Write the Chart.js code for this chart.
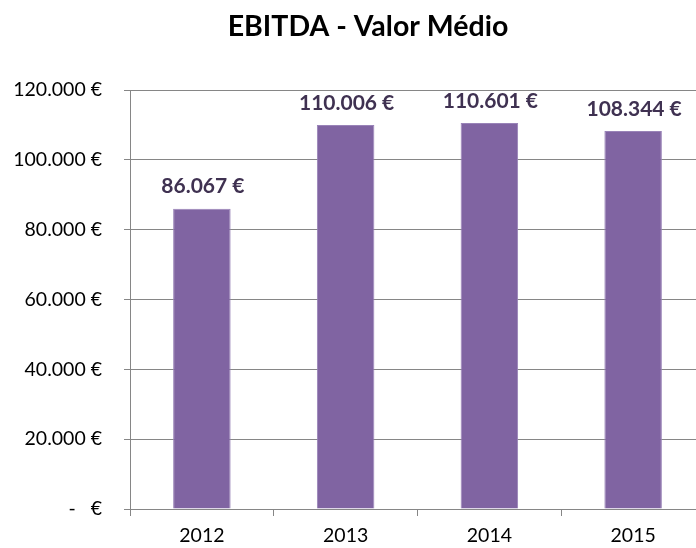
<!DOCTYPE html>
<html>
<head>
<meta charset="utf-8">
<script src="https://cdn.jsdelivr.net/npm/chart.js@4.4.1/dist/chart.umd.min.js"></script>
<style>
html,body{margin:0;padding:0;background:#fff;overflow:hidden;}
#wrap{width:736px;height:548px;}
</style>
</head>
<body>
<div id="wrap"><canvas id="c" width="736" height="548"></canvas></div>
<script>
const categories = ['2012', '2013', '2014', '2015'];
const ebitdaValues = [86067, 110006, 110601, 108344];
const yTicks = [0, 20000, 40000, 60000, 80000, 100000, 120000];
const chartTitle = 'EBITDA - Valor Médio';

function fmtEuro(v) {
  if (v === 0) return '-   €';
  return String(Math.round(v)).replace(/\B(?=(\d{3})+(?!\d))/g, '.') + ' €';
}

const FONT = 'Lato, "Open Sans", sans-serif';

const valueLabels = {
  id: 'valueLabels',
  afterDatasetsDraw(chart) {
    const ctx = chart.ctx;
    const meta = chart.getDatasetMeta(0);
    ctx.save();
    ctx.font = 'bold 21px ' + FONT;
    ctx.fillStyle = '#3F3151';
    ctx.textAlign = 'center';
    ctx.textBaseline = 'middle';
    meta.data.forEach((bar, i) => {
      ctx.fillText(fmtEuro(chart.data.datasets[0].data[i]), bar.x + 1, bar.y - 22);
    });
    ctx.restore();
  }
};

new Chart(document.getElementById('c'), {
  type: 'bar',
  data: {
    labels: categories,
    datasets: [{
      data: ebitdaValues,
      backgroundColor: '#8064A2',
      borderColor: '#9983b8',
      borderWidth: 1,
      categoryPercentage: 1,
      barPercentage: 0.4
    }]
  },
  options: {
    responsive: false,
    animation: false,
    devicePixelRatio: 1,
    layout: { padding: 0 },
    plugins: {
      legend: { display: false },
      tooltip: { enabled: false },
      title: {
        display: true,
        text: chartTitle,
        color: '#000',
        font: { family: FONT, size: 28.5, weight: 'bold' },
        padding: { top: 10, bottom: 46 }
      }
    },
    scales: {
      x: {
        grid: { drawOnChartArea: false, drawTicks: true, tickLength: 7, color: '#868686', offset: true },
        border: { color: '#868686', width: 1 },
        ticks: { color: '#000', font: { family: FONT, size: 19.5 }, padding: 8 },
        afterFit(scale) { scale.height = 39; }
      },
      y: {
        min: 0,
        max: 120000,
        afterBuildTicks(scale) { scale.ticks = yTicks.map(v => ({ value: v })); },
        grid: { color: '#868686', tickLength: 6, lineWidth: 1 },
        border: { color: '#868686', width: 1 },
        ticks: {
          color: '#000',
          font: { family: FONT, size: 19.5 },
          padding: 22,
          callback: (v) => fmtEuro(v)
        },
        afterFit(scale) { scale.width = 130; }
      },
      yPad: {
        position: 'right',
        display: true,
        grid: { display: false },
        border: { display: false },
        ticks: { display: false },
        afterFit(scale) { scale.width = 31; }
      }
    }
  },
  plugins: [valueLabels]
});
</script>
</body>
</html>
